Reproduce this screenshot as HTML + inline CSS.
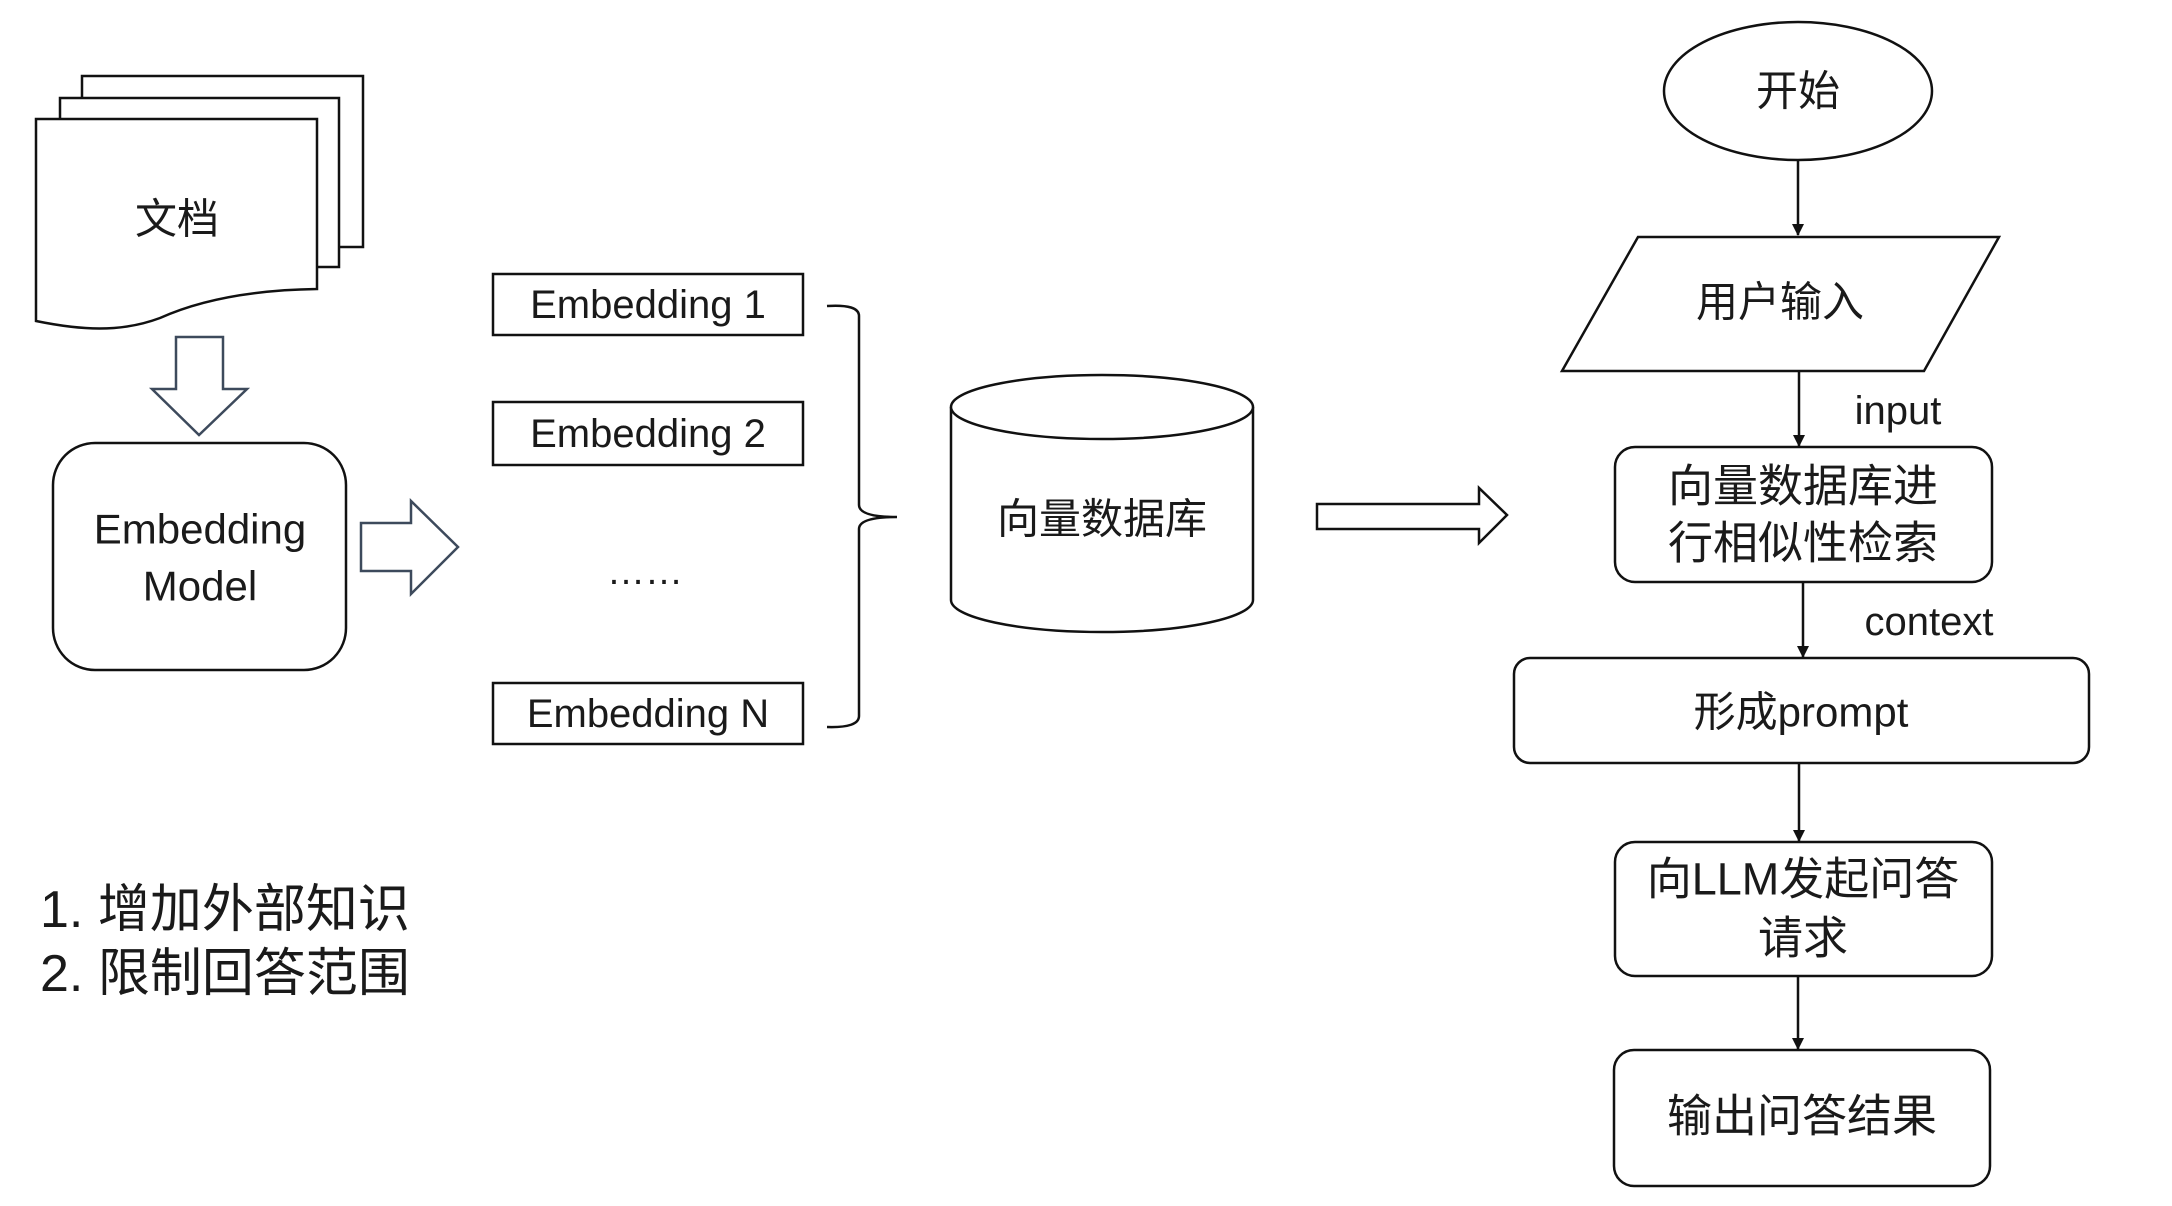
<!DOCTYPE html>
<html><head><meta charset="utf-8"><style>
html,body{margin:0;padding:0;background:#fff;}
svg{display:block;}
text{font-family:"Liberation Sans","Noto Sans CJK SC",sans-serif;fill:#1a1a1a;}
</style></head><body>
<svg width="2172" height="1206" viewBox="0 0 2172 1206" xmlns="http://www.w3.org/2000/svg">
<defs><marker id="ah" markerWidth="12" markerHeight="12" refX="11" refY="6" orient="auto" markerUnits="userSpaceOnUse"><path d="M0,0 L12,6 L0,12 z" fill="#111"/></marker></defs>
<g fill="#fff" stroke="#111" stroke-width="2.5">
<rect x="82" y="76" width="281" height="171"/>
<rect x="60" y="98" width="279" height="169"/>
<path d="M36,119 L317,119 L317,289 C250,290 200,300 160,318 C120,333 80,330 36,321 Z"/>
<path d="M176,337 L223,337 L223,389 L247,389 L199,435 L152,389 L176,389 Z" stroke="#3d4a5c"/>
<rect x="53" y="443" width="293" height="227" rx="42"/>
<path d="M361,523 L411,523 L411,501 L458,547 L411,594 L411,571 L361,571 Z" stroke="#3d4a5c"/>
<rect x="493" y="274" width="310" height="61"/>
<rect x="493" y="402" width="310" height="63"/>
<rect x="493" y="683" width="310" height="61"/>
</g>
<path d="M827,306 Q859,304 859,316 L859,505 Q859,517 897,517 Q859,517 859,529 L859,716 Q859,728 827,727" fill="none" stroke="#111" stroke-width="2.5"/>
<path d="M951,407 L951,600 A151,32 0 0 0 1253,600 L1253,407" fill="#fff" stroke="#111" stroke-width="2.5"/>
<ellipse cx="1102" cy="407" rx="151" ry="32" fill="#fff" stroke="#111" stroke-width="2.5"/>
<path d="M1317,504 L1479,504 L1479,488 L1507,515 L1479,543 L1479,529 L1317,529 Z" fill="#fff" stroke="#111" stroke-width="2.5"/>
<g fill="#fff" stroke="#111" stroke-width="2.5">
<ellipse cx="1798" cy="91" rx="134" ry="69"/>
<path d="M1638,237 L1999,237 L1924,371 L1562,371 Z"/>
<rect x="1615" y="447" width="377" height="135" rx="20"/>
<rect x="1514" y="658" width="575" height="105" rx="16"/>
<rect x="1615" y="842" width="377" height="134" rx="20"/>
<rect x="1614" y="1050" width="376" height="136" rx="20"/>
</g>
<g stroke="#111" stroke-width="2.5" marker-end="url(#ah)">
<line x1="1798" y1="161" x2="1798" y2="235"/>
<line x1="1799" y1="371" x2="1799" y2="446"/>
<line x1="1803" y1="582" x2="1803" y2="657"/>
<line x1="1799" y1="763" x2="1799" y2="841"/>
<line x1="1798" y1="976" x2="1798" y2="1049"/>
</g>
<g text-anchor="middle" dominant-baseline="central">
<text x="177" y="219" font-size="42">文档</text>
<text x="200" y="529" font-size="42">Embedding</text>
<text x="200" y="586" font-size="42">Model</text>
<text x="648" y="305" font-size="40">Embedding 1</text>
<text x="648" y="434" font-size="40">Embedding 2</text>
<text x="645" y="572" font-size="38">……</text>
<text x="648" y="714" font-size="40">Embedding N</text>
<text x="1102" y="519" font-size="42">向量数据库</text>
<text x="1798" y="91" font-size="42">开始</text>
<text x="1780" y="302" font-size="42">用户输入</text>
<text x="1898" y="411" font-size="40">input</text>
<text x="1803" y="486" font-size="45">向量数据库进</text>
<text x="1803" y="543" font-size="45">行相似性检索</text>
<text x="1929" y="622" font-size="40">context</text>
<text x="1801" y="712" font-size="42">形成prompt</text>
<text x="1803" y="879" font-size="45">向LLM发起问答</text>
<text x="1803" y="938" font-size="45">请求</text>
<text x="1802" y="1116" font-size="45">输出问答结果</text>
</g>
<g dominant-baseline="central">
<text x="40" y="910" font-size="52">1. 增加外部知识</text>
<text x="40" y="974" font-size="52">2. 限制回答范围</text>
</g>
</svg>
</body></html>
